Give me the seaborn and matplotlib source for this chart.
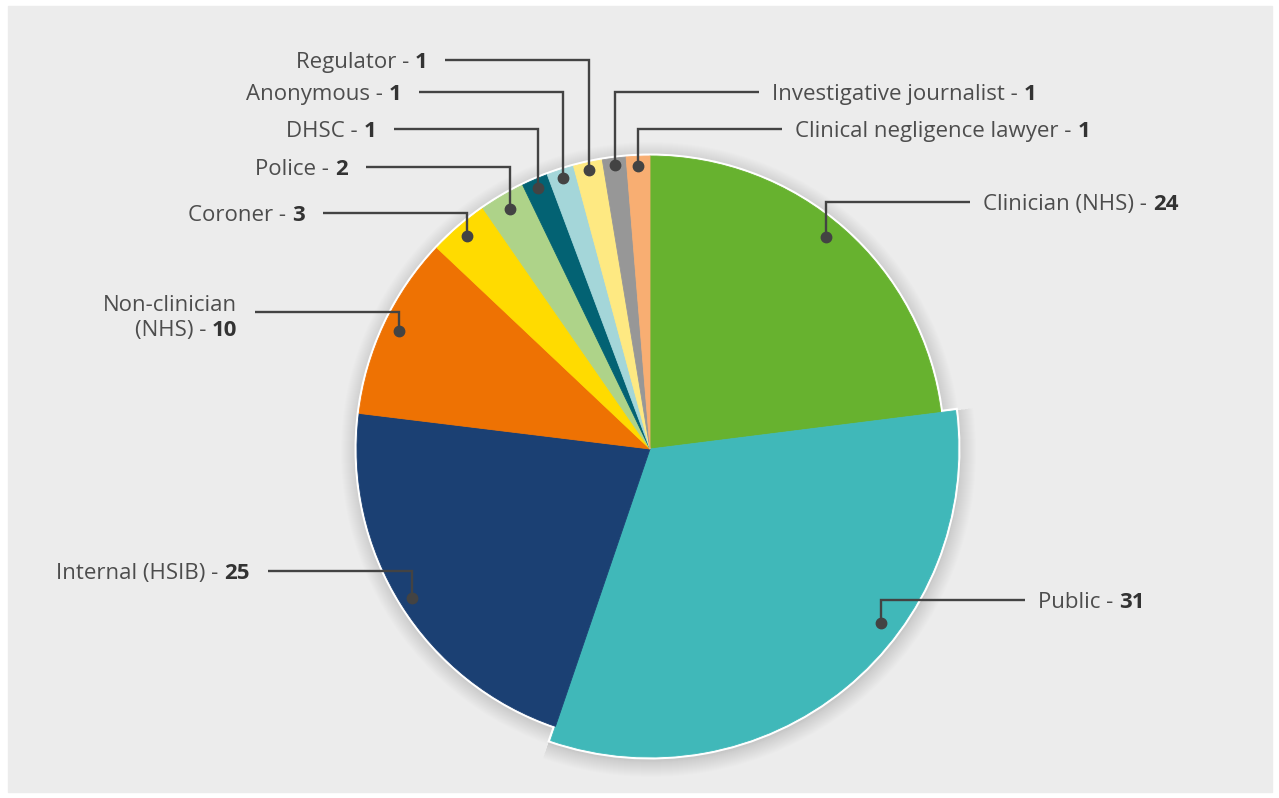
import numpy as np
import matplotlib.pyplot as plt
import seaborn as sns
from matplotlib.patches import Circle, Wedge, Rectangle

# categories in clockwise order starting at 12 o'clock
labels = ["Clinician (NHS)", "Public", "Internal (HSIB)", "Non-clinician\n(NHS)",
          "Coroner", "Police", "DHSC", "Anonymous", "Regulator",
          "Investigative journalist", "Clinical negligence lawyer"]
counts = [24, 31, 25, 10, 3, 2, 1, 1, 1, 1, 1]
# share of the circle each wedge takes as drawn in the source (%)
slice_pct = [23.0, 32.2, 21.7, 10.1, 3.3, 2.5, 1.45, 1.5, 1.6, 1.3, 1.3]

colors = ["#67b22f", "#40b8b9", "#1b4073", "#ee7203", "#ffdb00", "#aed389",
          "#036273", "#a4d6d9", "#fee982", "#979797", "#f8ae72"]

# layout (pixel space, y measured from the top of the image)
W, H = 1279, 798
cx, cy, R = 650, 449, 293
R_pub = 308
label_y = [202, 600, 571, 312, 213, 167, 129, 92, 60, 92, 129]
side = ["r", "r", "l", "l", "l", "l", "l", "l", "l", "r", "r"]
dot_frac = [0.48, 0.38, 0.5, 0.5, 0.5, 0.5, 0.5, 0.5, 0.5, 0.5, 0.5]
dot_r = [0.94, 0.94, 0.96, 0.945, 0.96, 0.95, 0.97, 0.97, 0.975, 0.975, 0.965]

sns.set_theme(style="white")
plt.rcParams["font.family"] = ["Open Sans", "DejaVu Sans"]

fig = plt.figure(figsize=(W / 100, H / 100), dpi=100, facecolor="white")
ax = fig.add_axes([0, 0, 1, 1])

def Y(y):
    return H - y

wedges, _ = ax.pie(slice_pct, colors=colors, startangle=90, counterclock=False,
                   radius=R, center=(cx, Y(cy)), wedgeprops=dict(linewidth=0.6))
for w in wedges:
    w.set_edgecolor(w.get_facecolor())
    w.set_zorder(4)
wedges[1].set_radius(R_pub)

# background panel
ax.add_patch(Rectangle((8, Y(792)), 1264, 786, color="#ececec", zorder=0))

# soft shadow + white rim
t1, t2 = wedges[1].theta1, wedges[1].theta2
for i in range(16):
    a = 0.008
    ax.add_patch(Circle((cx + 1, Y(cy) - 3), R + 2 + i, color="black", alpha=a, lw=0, zorder=1))
    ax.add_patch(Wedge((cx + 1, Y(cy) - 3), R_pub + 2 + i, t1 - 0.6, t2 + 0.6,
                       color="black", alpha=a, lw=0, zorder=1))
ax.add_patch(Circle((cx, Y(cy)), R + 2.5, color="white", lw=0, zorder=2))
ax.add_patch(Wedge((cx, Y(cy)), R_pub + 2.5, t1 - 0.5, t2 + 0.5, color="white", lw=0, zorder=2))

line_c = "#434343"
txt_c = "#4d4d4d"
num_c = "#333333"
fs = 16
seg = 144

for i, w in enumerate(wedges):
    start, end = w.theta2, w.theta1  # clockwise
    ang = np.deg2rad(start - dot_frac[i] * (start - end))
    r = (R_pub if i == 1 else R) * dot_r[i]
    dx, dy = cx + r * np.cos(ang), Y(cy) + r * np.sin(ang)
    ly = Y(label_y[i])
    sgn = 1 if side[i] == "r" else -1
    ax.plot([dx, dx, dx + sgn * seg], [dy, ly, ly], color=line_c, lw=1.7,
            solid_joinstyle="miter", solid_capstyle="butt", zorder=5)
    ax.plot(dx, dy, "o", color=line_c, ms=7.5, zorder=6)

    lines = labels[i].split("\n")
    if len(lines) == 2:
        base = Y(328 + 8)
        ax.text(dx - seg - 18, Y(303 + 8), lines[0], ha="right", va="baseline",
                fontsize=fs, color=txt_c, zorder=6)
    else:
        base = ly - 8
    main = lines[-1] + " - "
    num = str(counts[i])
    if sgn == 1:
        tx = dx + seg + 13
        t = ax.text(tx, base, main, ha="left", va="baseline", fontsize=fs, color=txt_c, zorder=6)
        ax.annotate(num, xy=(1, base), xycoords=(t, "data"), ha="left", va="baseline",
                    fontsize=fs, fontweight="bold", color=num_c, zorder=6)
    else:
        tx = dx - seg - 18
        t = ax.text(tx, base, num, ha="right", va="baseline", fontsize=fs,
                    fontweight="bold", color=num_c, zorder=6)
        ax.annotate(main, xy=(0, base), xycoords=(t, "data"), ha="right", va="baseline",
                    fontsize=fs, color=txt_c, zorder=6)

ax.set_xlim(0, W)
ax.set_ylim(0, H)
ax.set_aspect("equal")
ax.axis("off")

fig.savefig("out.png", dpi=100, facecolor="white")
